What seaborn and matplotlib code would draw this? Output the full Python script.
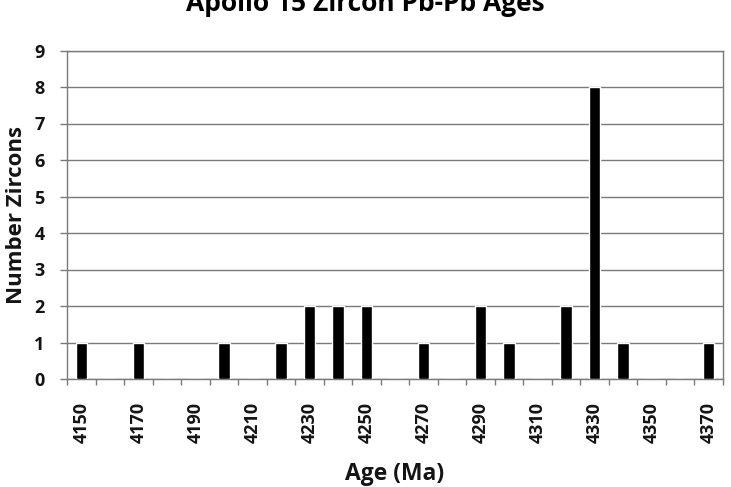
import matplotlib
matplotlib.use("Agg")
import matplotlib.pyplot as plt
import seaborn as sns
import pandas as pd
import numpy as np

ages = [4150, 4160, 4170, 4180, 4190, 4200, 4210, 4220, 4230, 4240, 4250, 4260,
        4270, 4280, 4290, 4300, 4310, 4320, 4330, 4340, 4350, 4360, 4370]
counts = [1, 0, 1, 0, 0, 1, 0, 1, 2, 2, 2, 0, 1, 0, 2, 1, 0, 2, 8, 1, 0, 0, 1]
title = "Apollo 15 Zircon Pb-Pb Ages"
xlabel = "Age (Ma)"
ylabel = "Number Zircons"

sns.set_style("white")
plt.rcParams['font.family'] = ['Open Sans', 'DejaVu Sans']

df = pd.DataFrame({"age": [str(a) for a in ages], "count": counts})

fig = plt.figure(figsize=(7.31, 4.87), dpi=100)
ax = fig.add_axes([67/731, 1-379/487, (723-67)/731, (379-50.5)/487])

sns.barplot(data=df, x="age", y="count", order=df["age"].tolist(),
            color="black", width=0.4, saturation=1, ax=ax, zorder=3)

ax.set_ylim(0, 9)
ax.set_xlim(-0.5, len(ages) - 0.5)
ax.set_yticks(range(0, 10))
ax.yaxis.grid(True, color="#7a7a7a", linewidth=1.0, zorder=0)
ax.set_axisbelow(True)

txt = "#141414"
# x labels every other category
ax.set_xticks(range(0, len(ages), 2))
ax.set_xticklabels([str(a) for a in ages[::2]], rotation=90, fontsize=13,
                   fontweight="bold", color=txt)
ax.set_xticks(np.arange(-0.5, len(ages), 1.0), minor=True)
ax.tick_params(axis="x", which="major", length=0, pad=16.5)
ax.tick_params(axis="x", which="minor", length=4.5, width=1, color="#7a7a7a",
               direction="out", bottom=True)
ax.tick_params(axis="y", which="major", length=5, width=1, color="#7a7a7a",
               direction="out", left=True, labelsize=13, pad=11)
for lab in ax.get_yticklabels():
    lab.set_fontweight("bold")
    lab.set_color(txt)

for s in ax.spines.values():
    s.set_visible(True)
    s.set_color("#7a7a7a")
    s.set_linewidth(1.0)

ax.set_xlabel(xlabel, fontsize=16.5, fontweight="bold", color=txt, labelpad=14)
ax.set_ylabel(ylabel, fontsize=16, fontweight="bold", color=txt, labelpad=5)

fig.text(0.5, 1 - 11/487, title, ha="center", va="baseline", fontsize=19,
         fontweight="bold", color="black")

fig.savefig("out.png", dpi=100)
